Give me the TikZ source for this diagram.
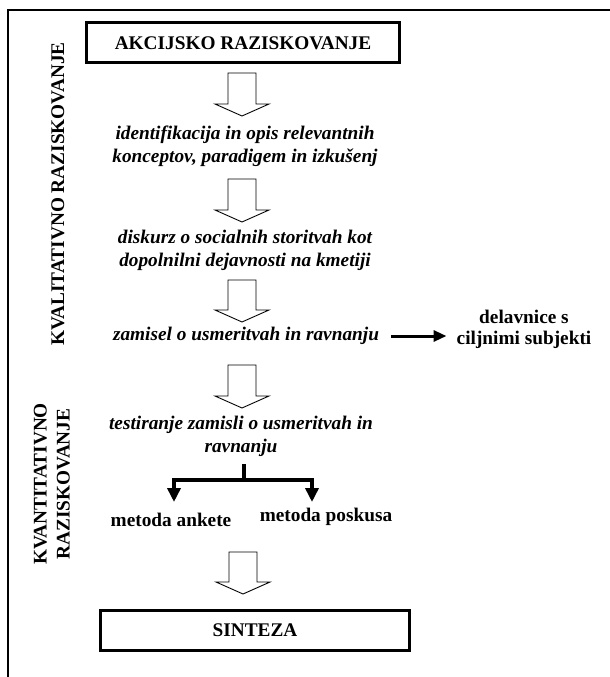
\documentclass[tikz,border=0pt]{standalone}
\usepackage{fontspec}
\setmainfont{Liberation Serif}
\usetikzlibrary{arrows.meta,calc}

\begin{document}
\begin{tikzpicture}[x=1pt,y=-1pt,
  every node/.style={font=\fontsize{19.3}{23}\selectfont\bfseries, align=center, inner sep=0pt},
  step text/.style={font=\fontsize{19.3}{23}\selectfont\bfseries\itshape},
  main box/.style={draw, line width=3pt, minimum height=40pt},
  hollow arrow/.style={draw, line width=0.9pt, line join=miter,
    to path={($(\tikztostart)+(-14pt,0pt)$) -- ($(\tikztostart)+(14pt,0pt)$)
      -- ($(\tikztotarget)+(14pt,12pt)$) -- ($(\tikztotarget)+(27pt,12pt)$)
      -- (\tikztotarget) -- ($(\tikztotarget)+(-27pt,12pt)$)
      -- ($(\tikztotarget)+(-14pt,12pt)$) -- cycle}},
  fork/.style={line width=3.5pt, line join=miter},
  fork arrow/.style={fork, -{Triangle[width=13pt,length=14pt]}},
  side arrow/.style={line width=3pt, -{Triangle[width=11pt,length=13pt]}}]

  \useasboundingbox (0,0) rectangle (610,677);
  \draw[line width=2pt] (610,10) -- (8,10) -- (8,677);

  % side labels
  \node[rotate=90] (kval) at (58,194) {KVALITATIVNO RAZISKOVANJE};
  \node[rotate=90] (kvant) at (52,484) {KVANTITATIVNO\\RAZISKOVANJE};

  % main column
  \node[main box, minimum width=313pt] (akcija) at (243,43) {AKCIJSKO RAZISKOVANJE};
  \node[step text] (ident) at (245,146) {identifikacija in opis relevantnih\\konceptov, paradigem in izkušenj};
  \node[step text] (diskurz) at (245,250) {diskurz o socialnih storitvah kot\\dopolnilni dejavnosti na kmetiji};
  \node[step text] (zamisel) at (246,336) {zamisel o usmeritvah in ravnanju};
  \node[font=\fontsize{19.3}{21}\selectfont\bfseries] (delav) at (524,329) {delavnice s\\ciljnimi subjekti};
  \node[step text] (test) at (241,436) {testiranje zamisli o usmeritvah in\\ravnanju};
  \node (anketa) at (171,520) {metoda ankete};
  \node (poskusa) at (326,517) {metoda poskusa};
  \node[main box, minimum width=309pt] (sinteza) at (255,630) {SINTEZA};

  % block arrows
  \coordinate (a1s) at (242,73);  \coordinate (a1e) at (242,116);
  \coordinate (a2s) at (242,179); \coordinate (a2e) at (242,222);
  \coordinate (a3s) at (242,280); \coordinate (a3e) at (242,322);
  \coordinate (a4s) at (242,365); \coordinate (a4e) at (242,408);
  \coordinate (a5s) at (243,552); \coordinate (a5e) at (243,594);
  \path
  (a1s) edge[hollow arrow] (a1e)
  (a2s) edge[hollow arrow] (a2e)
  (a3s) edge[hollow arrow] (a3e)
  (a4s) edge[hollow arrow] (a4e)
  (a5s) edge[hollow arrow] (a5e);

  \draw[side arrow, shorten <=12pt, shorten >=10pt] (zamisel.east) -- (zamisel.east -| delav.west);

  % fork to the two methods
  \coordinate (split) at (244,480);
  \coordinate (f1) at (174,502);
  \coordinate (f2) at (312,502);
  \draw[fork, shorten <=8pt] (test.south -| split) -- (split);
  \draw[fork arrow] (split) -| (f1);
  \draw[fork arrow] (split) -| (f2);
\end{tikzpicture}
\end{document}
